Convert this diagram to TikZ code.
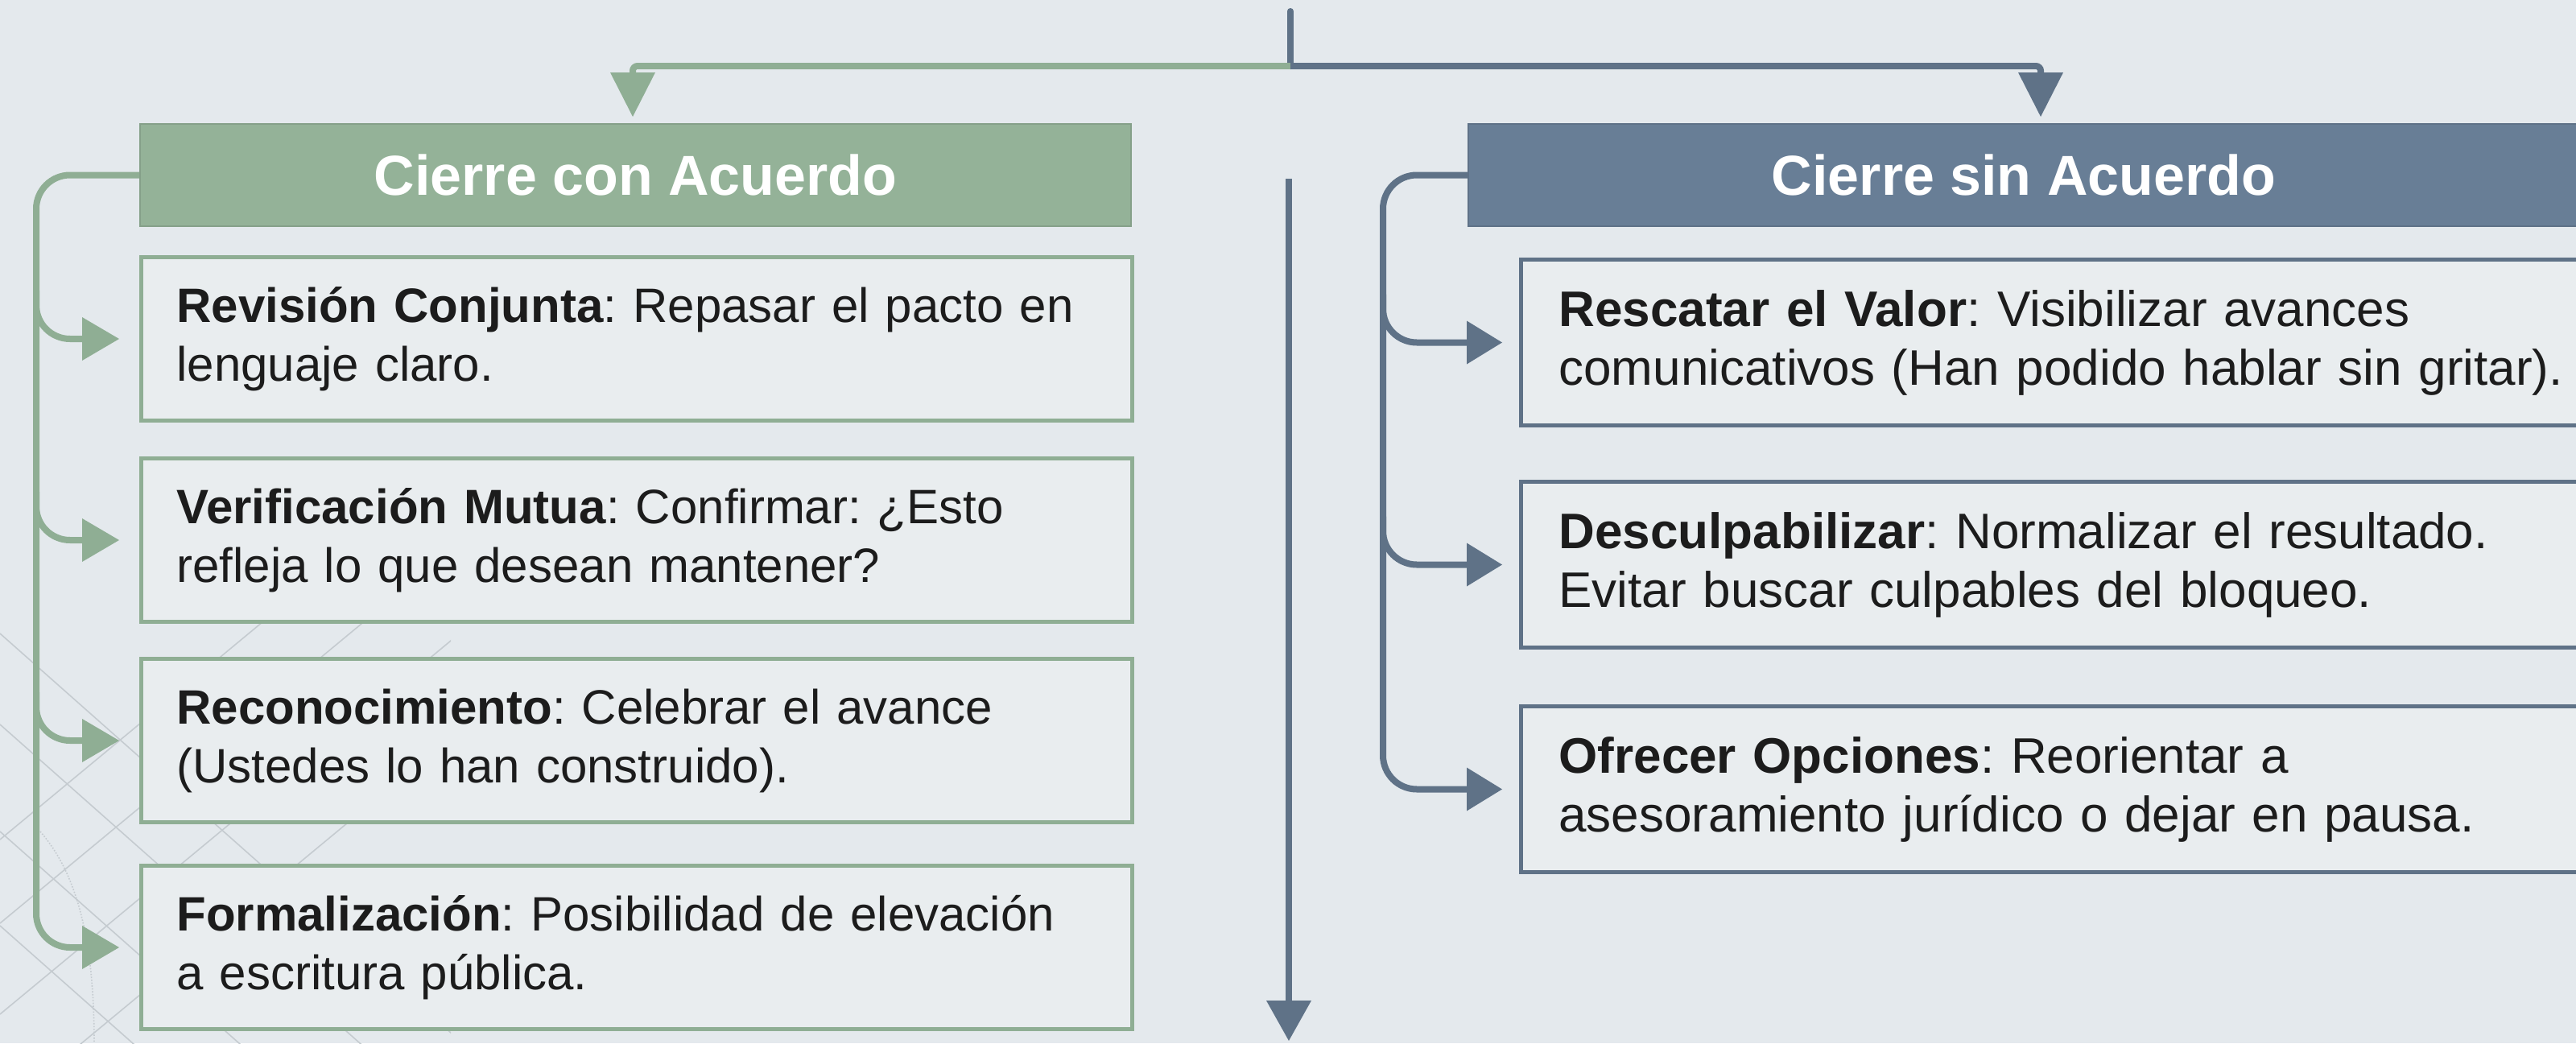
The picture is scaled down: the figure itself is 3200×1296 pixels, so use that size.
\documentclass[tikz,border=0pt]{standalone}
\usepackage{fontspec}
\setmainfont{Liberation Sans}
\usetikzlibrary{arrows.meta,calc}
\definecolor{bgc}{HTML}{E4E9ED}
\definecolor{boxbg}{HTML}{E9EDEF}
\definecolor{grh}{HTML}{94B298}
\definecolor{grl}{HTML}{8FAE94}
\definecolor{slh}{HTML}{687E96}
\definecolor{sll}{HTML}{5F7287}
\definecolor{txt}{HTML}{1C1C1C}
\definecolor{patc}{HTML}{C5CBD0}
\frenchspacing
\begin{document}
\begin{tikzpicture}[x=1pt,y=-1pt,
  hdr/.style={anchor=north west, minimum height=127pt, inner sep=0pt, text=white,
    line width=2pt, font=\fontsize{70}{84}\selectfont\bfseries},
  lbox/.style={anchor=north west, draw=grl, line width=5pt, fill=boxbg,
    minimum height=203pt, text width=1143pt, inner xsep=44pt, inner ysep=0pt,
    align=left, text=txt, font=\fontsize{60}{73}\selectfont},
  rbox/.style={anchor=north west, draw=sll, line width=5pt, fill=boxbg,
    minimum height=206pt, text width=1300pt, inner xsep=47pt, inner ysep=0pt,
    align=left, text=txt, font=\fontsize{62}{73}\selectfont},
  gline/.style={draw=grl, line width=8pt},
  sline/.style={draw=sll, line width=8pt},
  gtip/.style={-{Triangle[length=46pt,width=54pt,line width=0pt]}},
  stip/.style={-{Triangle[length=44pt,width=54pt,line width=0pt]}},
]
\useasboundingbox (0,0) rectangle (3200,1296);
\fill[bgc] (0,0) rectangle (3200,1296);

% faint background lattice (lower left)
\begin{scope}
  \clip (0,760) rectangle (560,1296);
  \foreach \y in {787,900,1033,1150} \draw[patc, line width=1.6pt] (0,\y) -- ++(700,620);
  \foreach \y in {1043,1147,1260,1380} \draw[patc, line width=1.6pt] (0,\y) -- ++(700,-580);
  \draw[patc, line width=1.6pt, dotted] (50,1033) .. controls (100,1090) and (117,1180) .. (117,1296);
\end{scope}

% headers
\node[hdr, fill=grh, draw=grh!90!black, minimum width=1231pt] (hl) at (173,153) {Cierre con Acuerdo};
\node[hdr, fill=slh, draw=slh!90!black, minimum width=1380pt] (hr) at (1823,153) {Cierre sin Acuerdo};

% left boxes
\node[lbox] (l1) at (173,317) {\textbf{Revisión Conjunta}: Repasar el pacto en\\lenguaje claro.};
\node[lbox] (l2) at (173,567) {\textbf{Verificación Mutua}: Confirmar: ¿Esto\\refleja lo que desean mantener?};
\node[lbox] (l3) at (173,816) {\textbf{Reconocimiento}: Celebrar el avance\\(Ustedes lo han construido).};
\node[lbox] (l4) at (173,1073) {\textbf{Formalización}: Posibilidad de elevación\\a escritura pública.};

% right boxes
\node[rbox] (r1) at (1887,320) {\textbf{Rescatar el Valor}: Visibilizar avances\\comunicativos (Han podido hablar sin gritar).};
\node[rbox] (r2) at (1887,596) {\textbf{Desculpabilizar}: Normalizar el resultado.\\Evitar buscar culpables del bloqueo.};
\node[rbox] (r3) at (1887,875) {\textbf{Ofrecer Opciones}: Reorientar a\\asesoramiento jurídico o dejar en pausa.};

% top split connector
\coordinate (t0) at (1603,14);
\coordinate (t1) at (1603,82);
\coordinate (jl) at (786,82);
\coordinate (jr) at (2535,82);
\draw[sline, line cap=round] (t0) -- (t1);
\draw[gline, rounded corners=6pt, -{Triangle[length=55pt,width=56pt,line width=0pt]}, shorten >=8pt] (t1) -- (jl) -- (jl |- hl.north);
\draw[sline, rounded corners=6pt, -{Triangle[length=55pt,width=56pt,line width=0pt]}, shorten >=8pt] (t1) -- (jr) -- (jr |- hr.north);

% central divider arrow
\coordinate (ct) at (1601,222);
\coordinate (cb) at (1601,1293);
\draw[sline, -{Triangle[length=50pt,width=56pt,line width=0pt]}] (ct) -- (cb);

% left bracket
\coordinate (gx) at (45,0);
\draw[gline, rounded corners=42pt, gtip, shorten >=25pt] (hl.west) -- (hl.west -| gx) -- (l4.west -| gx) -- (l4.west);
\foreach \n in {l1,l2,l3}
  \draw[gline, rounded corners=42pt, gtip, shorten >=25pt] ($(\n.west -| gx)+(0,-60)$) -- (\n.west -| gx) -- (\n.west);

% right bracket
\coordinate (sx) at (1718,0);
\draw[sline, rounded corners=42pt, stip, shorten >=21pt] (hr.west) -- (hr.west -| sx) -- (r3.west -| sx) -- (r3.west);
\foreach \n in {r1,r2}
  \draw[sline, rounded corners=42pt, stip, shorten >=21pt] ($(\n.west -| sx)+(0,-60)$) -- (\n.west -| sx) -- (\n.west);
\end{tikzpicture}
\end{document}
